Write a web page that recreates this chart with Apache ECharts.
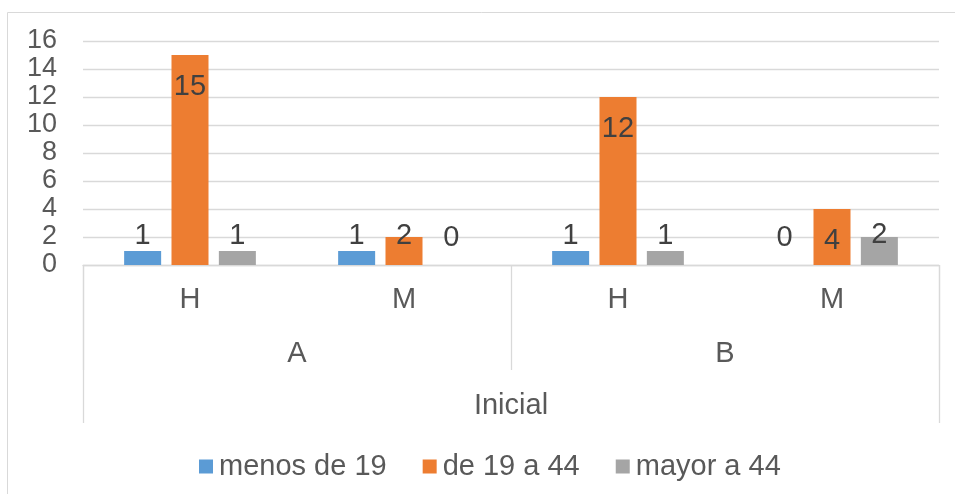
<!DOCTYPE html>
<html>
<head>
<meta charset="utf-8">
<script src="https://cdn.jsdelivr.net/npm/echarts@6/dist/echarts.min.js"></script>
<style>
html,body{margin:0;padding:0;background:#fff;}
#chart{width:955px;height:494px;}
</style>
</head>
<body>
<div id="chart"></div>
<script>
// ---- data ----
const categories = ['H', 'M', 'H', 'M'];
const groups = ['A', 'B'];
const topLevel = ['Inicial'];
const seriesNames = ['menos de 19', 'de 19 a 44', 'mayor a 44'];
const menos19 = [1, 1, 1, 0];
const de19a44 = [15, 2, 12, 4];
const mayor44 = [1, 0, 1, 2];
const yTicks = { min: 0, max: 16, interval: 2 };

// ---- styles ----
const FONT = '"Liberation Sans", Arial, sans-serif';
const colors = ['#5B9BD5', '#ED7D31', '#A5A5A5'];
const labelColor = '#404040';
const textColor = '#595959';
const lineColor = '#d9d9d9';

// per-item label placement (layout only)
const labelPlacement = [
  [{ position: 'top', offset: [0, -1] }, { position: 'top', offset: [0, -1] }, { position: 'top', offset: [0, -1] }, { position: 'top', offset: [0, -13] }],
  [{ position: 'insideTop', distance: 17 }, { position: 'top', offset: [0, 13] }, { position: 'insideTop', distance: 17 }, { position: 'insideTop', distance: 17 }],
  [{ position: 'top', offset: [0, -1] }, { position: 'top', offset: [0, -13] }, { position: 'top', offset: [0, -1] }, { position: 'top', offset: [0, 12] }]
];

const seriesData = [menos19, de19a44, mayor44];

const chart = echarts.init(document.getElementById('chart'), null, { renderer: 'canvas' });

const series = seriesData.map((vals, si) => ({
  name: seriesNames[si],
  type: 'bar',
  xAxisIndex: 0,
  yAxisIndex: 0,
  barWidth: 37,
  barGap: '28%',
  itemStyle: { color: colors[si] },
  label: { show: true, fontSize: 29, color: labelColor, fontFamily: FONT, distance: 0 },
  data: vals.map((v, i) => ({
    value: v,
    label: Object.assign({ show: true }, labelPlacement[si][i])
  }))
}));

chart.setOption({
  animation: false,
  textStyle: { fontFamily: FONT },
  graphic: [{
    type: 'rect',
    z: -10,
    shape: { x: 7.5, y: 12.5, width: 1200, height: 1200 },
    style: { fill: 'none', stroke: lineColor, lineWidth: 1 },
    silent: true
  }],
  legend: {
    left: 194,
    top: 447,
    itemWidth: 14,
    itemHeight: 14,
    itemGap: 36,
    icon: 'rect',
    textStyle: { fontSize: 29, color: textColor, fontFamily: FONT, padding: [0, 0, 0, 1] },
    data: seriesNames
  },
  grid: { left: 83, right: 16, top: 41, bottom: 229, containLabel: false },
  yAxis: {
    type: 'value',
    min: yTicks.min,
    max: yTicks.max,
    interval: yTicks.interval,
    axisLine: { show: false },
    axisTick: { show: false },
    axisLabel: { fontSize: 27, color: textColor, margin: 26, fontFamily: FONT },
    splitLine: { lineStyle: { color: lineColor, width: 1.3 } }
  },
  xAxis: [
    {
      type: 'category',
      position: 'bottom',
      data: categories,
      axisLine: { show: true, lineStyle: { color: lineColor, width: 1.3 } },
      axisTick: { show: false },
      axisLabel: { fontSize: 29, color: textColor, margin: 20, fontFamily: FONT, interval: 0 },
      splitLine: { show: false }
    },
    {
      type: 'category',
      position: 'bottom',
      data: groups,
      axisLine: { show: false },
      axisTick: { show: true, length: 105, lineStyle: { color: lineColor, width: 1.3 } },
      axisLabel: { fontSize: 29, color: textColor, margin: 74, fontFamily: FONT, interval: 0 },
      splitLine: { show: false }
    },
    {
      type: 'category',
      position: 'bottom',
      data: topLevel,
      axisLine: { show: false },
      axisTick: { show: true, length: 158, lineStyle: { color: lineColor, width: 1.3 } },
      axisLabel: { fontSize: 29, color: textColor, margin: 126, fontFamily: FONT, interval: 0 },
      splitLine: { show: false }
    }
  ],
  series: series
});
</script>
</body>
</html>
